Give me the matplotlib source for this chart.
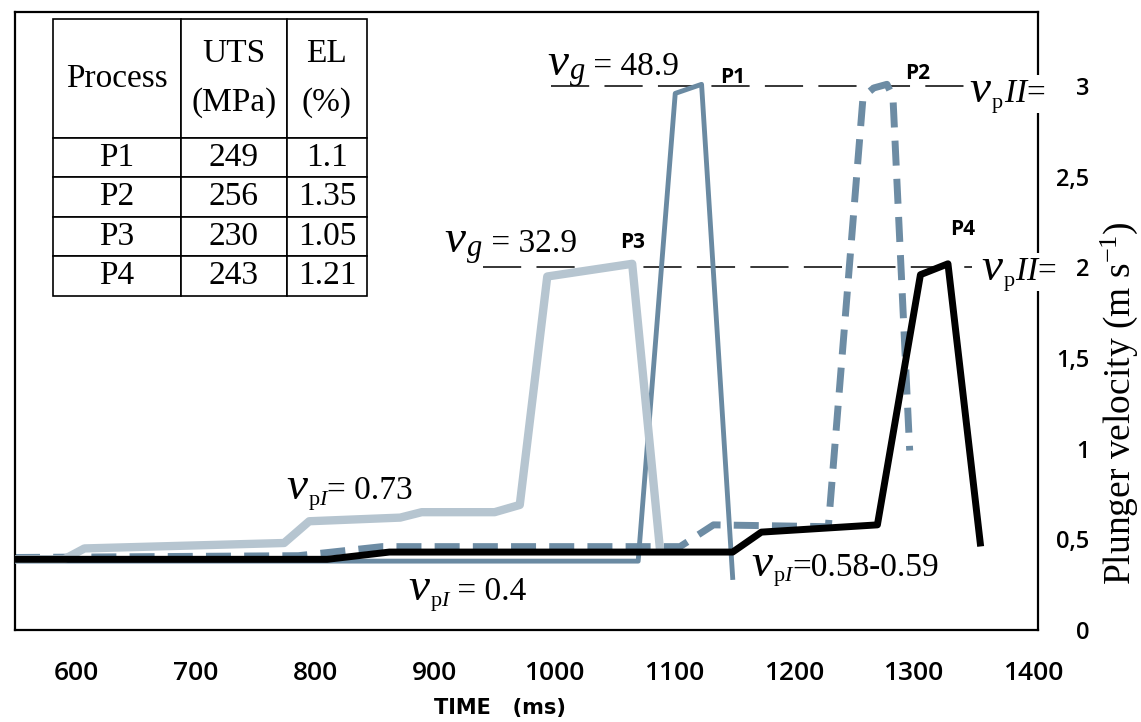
import matplotlib.pyplot as plt

plt.rcParams['mathtext.fontset'] = 'custom'
plt.rcParams['mathtext.rm'] = 'Liberation Serif'
plt.rcParams['mathtext.it'] = 'Liberation Serif:italic'
plt.rcParams['mathtext.bf'] = 'Liberation Serif:bold'

# plunger velocity curves (time in ms, velocity in m/s)
t_p1 = [549, 1070, 1101, 1123, 1149]
v_p1 = [0.38, 0.38, 2.96, 3.01, 0.29]

t_p2 = [549, 786, 856, 1105, 1133, 1229, 1258, 1267, 1278, 1283, 1297]
v_p2 = [0.40, 0.41, 0.46, 0.46, 0.58, 0.57, 2.94, 2.99, 3.01, 2.94, 0.99]

t_p3 = [549, 590, 607, 774, 795, 871, 889, 950, 971, 994, 1065, 1088]
v_p3 = [0.39, 0.39, 0.45, 0.48, 0.60, 0.62, 0.65, 0.65, 0.69, 1.95, 2.02, 0.46]

t_p4 = [549, 810, 862, 1149, 1173, 1270, 1306, 1329, 1356]
v_p4 = [0.39, 0.39, 0.43, 0.43, 0.54, 0.58, 1.96, 2.02, 0.48]

# second stage velocity guides
guide_v = [3, 2]
guide_from = [997, 940]
guide_to = [1342, 1349]

# table
process = ['P1', 'P2', 'P3', 'P4']
uts = [249, 256, 230, 243]
el = [1.1, 1.35, 1.05, 1.21]

xticks = [600, 700, 800, 900, 1000, 1100, 1200, 1300, 1400]
yticks = [0, 0.5, 1, 1.5, 2, 2.5, 3]
yticklabels = ['0', '0,5', '1', '1,5', '2', '2,5', '3']

fig = plt.figure(figsize=(11.41, 7.22), dpi=100)
ax = fig.add_axes([0.01315, 0.1274, 0.8966, 0.856])

ax.plot(t_p2, v_p2, color='#6d8ca4', lw=5, ls=(0, (3.6, 1.9)), zorder=2)
ax.plot(t_p1, v_p1, color='#6a8aa2', lw=3.5, zorder=3)
ax.plot(t_p3, v_p3, color='#b6c5d0', lw=6, zorder=4)
ax.plot(t_p4, v_p4, color='black', lw=5, zorder=5)

for v, a, b in zip(guide_v, guide_from, guide_to):
    ax.plot([a, b], [v, v], color='black', lw=1.1, dashes=(25, 10), zorder=1.5)

ax.set_xlim(549, 1404.3)
ax.set_ylim(0, 3.409)

ax.set_xticks(xticks)
ax.set_xticklabels([str(x) for x in xticks], family='Open Sans', fontsize=19,
                   fontweight='semibold')
ax.tick_params(axis='x', length=0, pad=22)

ax.set_yticks(yticks)
ax.yaxis.tick_right()
ax.tick_params(axis='y', length=0, pad=37)
ax.set_yticklabels(yticklabels, family='Open Sans', fontsize=17, fontweight='semibold')
for lab in ax.get_yticklabels():
    lab.set_ha('right')

for s in ax.spines.values():
    s.set_linewidth(1.6)

ax.set_xlabel('TIME   (ms)', fontsize=15, fontweight='bold', family='DejaVu Sans', va='center')
ax.xaxis.set_label_coords(0.474, -0.126)
fig.text(0.981, 0.442, r'Plunger velocity (m s$^{\mathrm{-1}}$)', rotation=90,
         ha='center', va='center', fontsize=27, family='Liberation Serif')


def vlabel(x, y, sub, rest, sub_size=16, sub_w=13.5, sub_dy=-4, box=None):
    base = dict(xy=(x, y), textcoords='offset points', family='Liberation Serif',
                ha='left', va='baseline')
    ax.annotate(rest, xytext=(15.5 + sub_w, 0), fontsize=24, bbox=box, zorder=6, **base)
    ax.annotate('v', xytext=(0, 0), fontsize=34, style='italic', zorder=7, **base)
    ax.annotate(sub, xytext=(15.5, sub_dy), fontsize=sub_size, zorder=7, **base)


vlabel(994, 3.06, '$g$', ' = 48.9', sub_size=22, sub_w=12, sub_dy=-3)
vlabel(908, 2.085, '$g$', ' = 32.9', sub_size=22, sub_w=12, sub_dy=-3)
vlabel(776, 0.72, r'$\mathrm{p}I$', '= 0.73')
vlabel(878, 0.165, r'$\mathrm{p}I$', ' = 0.4')
vlabel(1165, 0.30, r'$\mathrm{p}I$', '=0.58-0.59')
box = dict(facecolor='white', edgecolor='none', pad=3)
vlabel(1347, 2.91, r'$\mathrm{p}$', '$II$=', sub_w=9, box=box)
vlabel(1357, 1.93, r'$\mathrm{p}$', '$II$=', sub_w=9, box=box)

sans = dict(family='Open Sans', fontsize=15, fontweight='bold', ha='center', va='center')
ax.text(1149, 3.05, 'P1', **sans)
ax.text(1304, 3.07, 'P2', **sans)
ax.text(1065, 2.14, 'P3', **sans)
ax.text(1341, 2.21, 'P4', **sans)

cells = [[p, str(u), str(e)] for p, u, e in zip(process, uts, el)]
tab = ax.table(cellText=cells, colLabels=['Process', 'UTS\n(MPa)', 'EL\n(%)'],
               colWidths=[0.4076, 0.3376, 0.2548], cellLoc='center',
               bbox=[0.0371, 0.5405, 0.3069, 0.4482])
tab.auto_set_font_size(False)
tab.set_fontsize(24)
for (r, c), cell in tab.get_celld().items():
    cell.set_height(119 if r == 0 else 39.5)
    cell.set_linewidth(1.2)
    cell.get_text().set_fontfamily('Liberation Serif')
    if r == 0:
        cell.get_text().set_linespacing(1.75)

fig.savefig('out.png', dpi=100)
